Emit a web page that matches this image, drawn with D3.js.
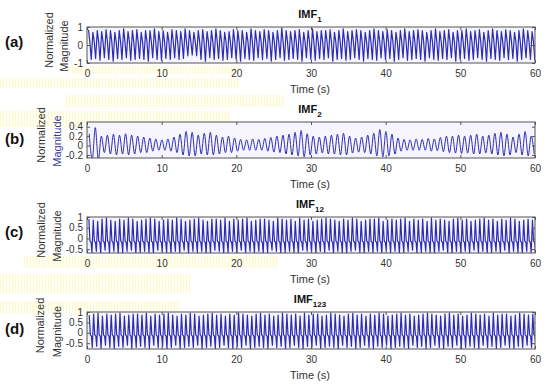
<!DOCTYPE html>
<html><head><meta charset="utf-8">
<script src="https://cdn.jsdelivr.net/npm/d3@7"></script>
<style>body{margin:0;background:#fff}svg{display:block}text{font-family:"Liberation Sans",Arial,sans-serif}</style>
</head><body><svg id="chart" width="550" height="388"></svg>
<script>
// ---------- data ----------
const xTicks = [0, 10, 20, 30, 40, 50, 60];
const panelLabels = ["(a)", "(b)", "(c)", "(d)"];
const titleBase = ["IMF", "IMF", "IMF", "IMF"];
const titleSub = ["1", "2", "12", "123"];
const yTicksA = [-1, 0, 1];
const yTicksB = [-0.2, 0, 0.2, 0.4];
const yTicksC = [-0.5, 0, 0.5, 1];
const yTicksD = [-0.5, 0, 0.5, 1];
const duration = 60;

const imf1Peaks = [0.85,0.7,0.8,0.75,0.85,0.8,0.7,0.8,0.9,0.75,0.8,0.85,0.7,0.8,0.8,0.9,0.75,0.8,0.7,0.85,
0.8,0.75,0.9,0.8,0.7,0.8,0.85,0.75,0.8,0.9,0.8,0.7,0.75,0.85,0.8,0.8,0.7,0.9,0.8,0.75,
0.85,0.8,0.7,0.8,0.95,0.8,0.75,0.8,0.85,0.7,0.8,0.9,0.75,0.8,0.8,0.85,0.7,0.8,0.9,0.75,
0.8,0.85,0.8,0.7,0.8,0.9,0.8,0.75,0.85,0.8,0.7,0.8,0.9,0.75,0.8,0.85,0.8,0.7,0.8,0.9,
0.75,0.8,0.85,0.7,0.8,0.8,0.9,0.75,0.8,0.85,0.7,0.8,0.9,0.8,0.75,0.85,0.8,0.7,0.8,0.9,0.8,0.75];
const imf1Troughs = [-0.8,-0.75,-0.85,-0.7,-0.8,-0.9,-0.75,-0.8,-0.7,-0.85,-0.8,-0.75,-0.8,-0.9,-0.7,-0.8,-0.85,-0.75,-0.8,-0.7,
-0.8,-0.75,-0.6,-0.55,-0.6,-0.8,-0.9,-0.7,-0.8,-0.75,-0.85,-0.8,-0.7,-0.8,-0.9,-0.75,-0.8,-0.85,-0.7,-0.8,
-0.75,-0.9,-0.8,-0.7,-0.85,-0.8,-0.75,-0.8,-0.9,-0.7,-0.8,-0.85,-0.75,-0.8,-0.7,-0.9,-0.8,-0.75,-0.85,-0.8,
-0.7,-0.8,-0.9,-0.75,-0.8,-0.85,-0.7,-0.8,-0.75,-0.9,-0.8,-0.7,-0.85,-0.8,-0.75,-0.8,-0.9,-0.7,-0.8,-0.85,
-0.75,-0.8,-0.7,-0.9,-0.8,-0.75,-0.85,-0.8,-0.7,-0.8,-0.9,-0.75,-0.8,-0.85,-0.7,-0.8,-0.75,-0.9,-0.8,-0.7,-0.8,-0.85];
const imf1Mid = [0.2];

const imf2Peaks = [0.25,0.38,0.2,0.22,0.24,0.22,0.25,0.22,0.2,0.18,0.16,0.14,0.12,0.14,0.18,0.24,0.3,0.28,0.22,0.26,
0.28,0.22,0.18,0.2,0.16,0.13,0.12,0.14,0.13,0.15,0.17,0.2,0.22,0.24,0.28,0.32,0.25,0.2,0.18,0.2,
0.22,0.24,0.26,0.2,0.16,0.18,0.22,0.26,0.34,0.3,0.24,0.16,0.13,0.12,0.14,0.13,0.15,0.14,0.17,0.2,
0.2,0.22,0.2,0.22,0.24,0.2,0.22,0.26,0.28,0.24,0.18,0.24,0.3,0.2];
const imf2Troughs = [-0.3,-0.3,-0.15,-0.18,-0.2,-0.18,-0.2,-0.18,-0.15,-0.15,-0.12,-0.1,-0.1,-0.12,-0.15,-0.2,-0.22,-0.22,-0.18,-0.2,
-0.2,-0.18,-0.15,-0.15,-0.12,-0.1,-0.1,-0.1,-0.1,-0.12,-0.14,-0.15,-0.18,-0.2,-0.22,-0.24,-0.2,-0.18,-0.16,-0.18,
-0.18,-0.2,-0.2,-0.16,-0.14,-0.15,-0.18,-0.22,-0.24,-0.22,-0.18,-0.12,-0.1,-0.1,-0.1,-0.1,-0.12,-0.11,-0.13,-0.15,
-0.16,-0.17,-0.16,-0.18,-0.18,-0.16,-0.18,-0.2,-0.22,-0.2,-0.15,-0.2,-0.22,-0.18];

const imf12Peaks = [0.9,0.85,0.8,0.9,0.95,0.85,0.8,0.9,0.85,0.95,0.9,0.8,0.85,0.9,0.95,0.9,0.8,0.85,0.9,0.85,
0.95,0.9,0.8,0.85,0.9,0.95,0.85,0.8,0.9,0.9,0.85,0.95,0.8,0.9,0.85,0.9,0.95,0.8,0.85,0.9,
0.9,0.85,0.8,0.95,0.9,0.85,0.9,0.8,0.95,0.85,0.9,0.8,0.85,0.9,0.95,0.9,0.85,0.8,0.9,0.85,
0.95,0.9,0.8,0.85,0.9,0.9,0.95,0.8,0.85,0.9,0.85,0.9,0.95,0.8,0.9,0.85,0.9,0.8,0.95,0.85,
0.9,0.85,0.8,0.9,0.95,0.85,0.9,0.8,0.85,0.9,0.95,0.85,0.9,0.8,0.9,0.85,0.95,0.9,0.8,0.85,0.9,0.85];
const imf12Troughs = [-0.65,-0.6,-0.7,-0.55,-0.65,-0.6,-0.7,-0.65,-0.6,-0.55,-0.7,-0.65,-0.6,-0.65,-0.7,-0.55,-0.6,-0.65,-0.7,-0.6,
-0.65,-0.55,-0.7,-0.6,-0.65,-0.6,-0.7,-0.65,-0.55,-0.6,-0.7,-0.65,-0.6,-0.65,-0.55,-0.7,-0.6,-0.65,-0.6,-0.7,
-0.65,-0.55,-0.6,-0.7,-0.65,-0.6,-0.65,-0.7,-0.55,-0.6,-0.65,-0.7,-0.6,-0.65,-0.55,-0.7,-0.6,-0.65,-0.7,-0.6,
-0.55,-0.65,-0.7,-0.6,-0.65,-0.6,-0.7,-0.55,-0.65,-0.6,-0.7,-0.65,-0.6,-0.55,-0.7,-0.65,-0.6,-0.65,-0.7,-0.6,
-0.55,-0.65,-0.7,-0.6,-0.65,-0.6,-0.7,-0.55,-0.65,-0.6,-0.7,-0.65,-0.6,-0.65,-0.55,-0.7,-0.6,-0.65,-0.7,-0.6,-0.65,-0.6];
const imf12Mid = [-0.12, -0.18];

const imf123Peaks = [0.85,0.9,0.95,0.8,0.9,0.85,0.9,0.95,0.8,0.85,0.9,0.9,0.85,0.95,0.8,0.9,0.85,0.9,0.95,0.85,
0.8,0.9,0.85,0.95,0.9,0.8,0.85,0.9,0.95,0.85,0.9,0.8,0.9,0.85,0.95,0.9,0.85,0.8,0.9,0.95,
0.85,0.9,0.8,0.85,0.95,0.9,0.85,0.9,0.8,0.95,0.85,0.9,0.9,0.8,0.85,0.95,0.9,0.85,0.8,0.9,
0.95,0.85,0.9,0.8,0.9,0.85,0.95,0.9,0.8,0.85,0.9,0.95,0.85,0.9,0.8,0.85,0.9,0.95,0.9,0.85,
0.8,0.9,0.95,0.85,0.9,0.8,0.85,0.95,0.9,0.85,0.9,0.8,0.95,0.85,0.9,0.9,0.8,0.85,0.95,0.9,0.85,0.9];
const imf123Troughs = [-0.7,-0.65,-0.75,-0.6,-0.7,-0.75,-0.65,-0.7,-0.6,-0.75,-0.7,-0.65,-0.7,-0.75,-0.6,-0.7,-0.65,-0.75,-0.7,-0.6,
-0.75,-0.7,-0.65,-0.7,-0.6,-0.75,-0.7,-0.65,-0.75,-0.7,-0.6,-0.7,-0.75,-0.65,-0.7,-0.6,-0.75,-0.7,-0.65,-0.7,
-0.75,-0.6,-0.7,-0.65,-0.75,-0.7,-0.6,-0.7,-0.75,-0.65,-0.7,-0.6,-0.75,-0.7,-0.65,-0.7,-0.75,-0.6,-0.7,-0.65,
-0.75,-0.7,-0.6,-0.7,-0.75,-0.65,-0.7,-0.6,-0.75,-0.7,-0.65,-0.7,-0.75,-0.6,-0.7,-0.65,-0.75,-0.7,-0.6,-0.7,
-0.75,-0.65,-0.7,-0.6,-0.75,-0.7,-0.65,-0.7,-0.75,-0.6,-0.7,-0.65,-0.75,-0.7,-0.6,-0.7,-0.75,-0.65,-0.7,-0.6,-0.7,-0.65];
const imf123Mid = [-0.1, -0.16];

// ---------- build ----------
function spikySeries(peaks, troughs, mids, offset) {
  const n = peaks.length, P = duration / n, pts = [];
  peaks.forEach((p, i) => {
    const t0 = offset + i * P;
    pts.push([t0, p]);
    if (mids.length === 1) {
      pts.push([t0 + 0.3 * P, mids[0]]);
      pts.push([t0 + 0.62 * P, troughs[i]]);
    } else {
      pts.push([t0 + 0.25 * P, mids[0]]);
      pts.push([t0 + 0.5 * P, mids[1]]);
      pts.push([t0 + 0.7 * P, troughs[i]]);
    }
  });
  return pts;
}
function waveSeries(peaks, troughs, offset) {
  const n = peaks.length, P = duration / n, pts = [];
  peaks.forEach((p, i) => {
    pts.push([offset + i * P, p]);
    pts.push([offset + (i + 0.5) * P, troughs[i]]);
  });
  return pts;
}

const panels = [
  {top: 27, bottom: 63, dom: [-1, 1], ticks: yTicksA, data: spikySeries(imf1Peaks, imf1Troughs, imf1Mid, 0.2), curve: d3.curveLinear, sw: 1.2, lx: [53, 68]},
  {top: 122, bottom: 158, dom: [-0.265, 0.5], ticks: yTicksB, data: waveSeries(imf2Peaks, imf2Troughs, 0.3), curve: d3.curveMonotoneX, sw: 1.0, lx: [45, 61]},
  {top: 217, bottom: 253, dom: [-0.68, 1], ticks: yTicksC, data: spikySeries(imf12Peaks, imf12Troughs, imf12Mid, 0.25), curve: d3.curveLinear, sw: 1.2, lx: [45, 61]},
  {top: 312, bottom: 349, dom: [-0.78, 1], ticks: yTicksD, data: spikySeries(imf123Peaks, imf123Troughs, imf123Mid, 0.3), curve: d3.curveLinear, sw: 1.2, lx: [44, 61]}
];

const svg = d3.select("#chart");
const x = d3.scaleLinear().domain([0, duration]).range([87, 535]);

// faint yellow ghost artifacts
const defs = svg.append("defs");
const pat = defs.append("pattern").attr("id", "ghost").attr("width", 3).attr("height", 10).attr("patternUnits", "userSpaceOnUse");
pat.append("rect").attr("width", 3).attr("height", 10).attr("fill", "#fffef0");
pat.append("rect").attr("width", 1).attr("height", 10).attr("fill", "#fbf7b4");
const ghosts = [[67,66,173,8],[0,78,240,10],[65,95,220,12],[0,111,230,16],[23,256,255,12],[0,274,190,19],[0,301,180,12]];
svg.append("g").selectAll("rect").data(ghosts).join("rect")
  .attr("x", d => d[0]).attr("y", d => d[1]).attr("width", d => d[2]).attr("height", d => d[3])
  .attr("fill", "url(#ghost)").attr("opacity", 0.7);

panels.forEach((p, k) => {
  const y = d3.scaleLinear().domain(p.dom).range([p.bottom, p.top]);
  const g = svg.append("g");
  const h = p.bottom - p.top;
  defs.append("clipPath").attr("id", "clip" + k).append("rect")
    .attr("x", 87).attr("y", p.top).attr("width", 448).attr("height", h);
  g.append("rect").attr("x", 87).attr("y", p.top).attr("width", 448).attr("height", h).attr("fill", "#f6f5fd");

  const line = d3.line().x(d => x(d[0])).y(d => y(d[1])).curve(p.curve);
  g.append("path").datum(p.data).attr("d", line).attr("clip-path", `url(#clip${k})`)
    .attr("fill", "none").attr("stroke", "#2d2db4").attr("stroke-width", p.sw).attr("stroke-linejoin", "round");

  const fmt = d => String(d);
  const bx = g.append("g").attr("transform", `translate(0,${p.bottom})`)
    .call(d3.axisBottom(x).tickValues(xTicks).tickSize(-3).tickPadding(7).tickFormat(fmt));
  const tx = g.append("g").attr("transform", `translate(0,${p.top})`)
    .call(d3.axisTop(x).tickValues(xTicks).tickSize(-3).tickFormat(""));
  const ly = g.append("g").attr("transform", `translate(87,0)`)
    .call(d3.axisLeft(y).tickValues(p.ticks).tickSize(-3).tickPadding(4).tickFormat(fmt));
  const ry = g.append("g").attr("transform", `translate(535,0)`)
    .call(d3.axisRight(y).tickValues(p.ticks).tickSize(-3).tickFormat(""));
  [bx, tx, ly, ry].forEach(a => {
    a.select(".domain").remove();
    a.selectAll("line").attr("stroke", "#555");
    a.selectAll("text").attr("font-size", 10).attr("fill", "#333").attr("font-family", "Liberation Sans, Arial, sans-serif");
  });

  g.append("rect").attr("x", 87).attr("y", p.top).attr("width", 448).attr("height", h)
    .attr("fill", "none").attr("stroke", "#555").attr("stroke-width", 1);

  // title
  const t = g.append("text").attr("x", 310).attr("y", p.top - 9).attr("text-anchor", "middle")
    .attr("font-size", 11).attr("font-weight", "bold").attr("fill", "#111");
  t.append("tspan").text(titleBase[k]);
  t.append("tspan").attr("font-size", 8).attr("dy", 4).text(titleSub[k]);

  // x label
  g.append("text").attr("x", 310).attr("y", p.bottom + 30).attr("text-anchor", "middle")
    .attr("font-size", 11).attr("fill", "#333").text("Time (s)");

  // y label
  const mid = (p.top + p.bottom) / 2;
  g.append("text").attr("transform", `translate(${p.lx[0]},${mid - 5}) rotate(-90)`).attr("text-anchor", "middle")
    .attr("font-size", 11).attr("fill", "#333").text("Normalized");
  g.append("text").attr("transform", `translate(${p.lx[1]},${mid + 1}) rotate(-90)`).attr("text-anchor", "middle")
    .attr("font-size", 11).attr("fill", k === 1 ? "#3a3aa8" : "#333").text("Magnitude");

  // panel letter
  g.append("text").attr("x", 5).attr("y", p.top + (k % 2 === 0 ? 20 : 22))
    .attr("font-family", "Liberation Serif, Times New Roman, serif").attr("font-weight", "bold")
    .attr("font-size", 15).attr("fill", "#111").text(panelLabels[k]);
});
</script>
</body></html>
